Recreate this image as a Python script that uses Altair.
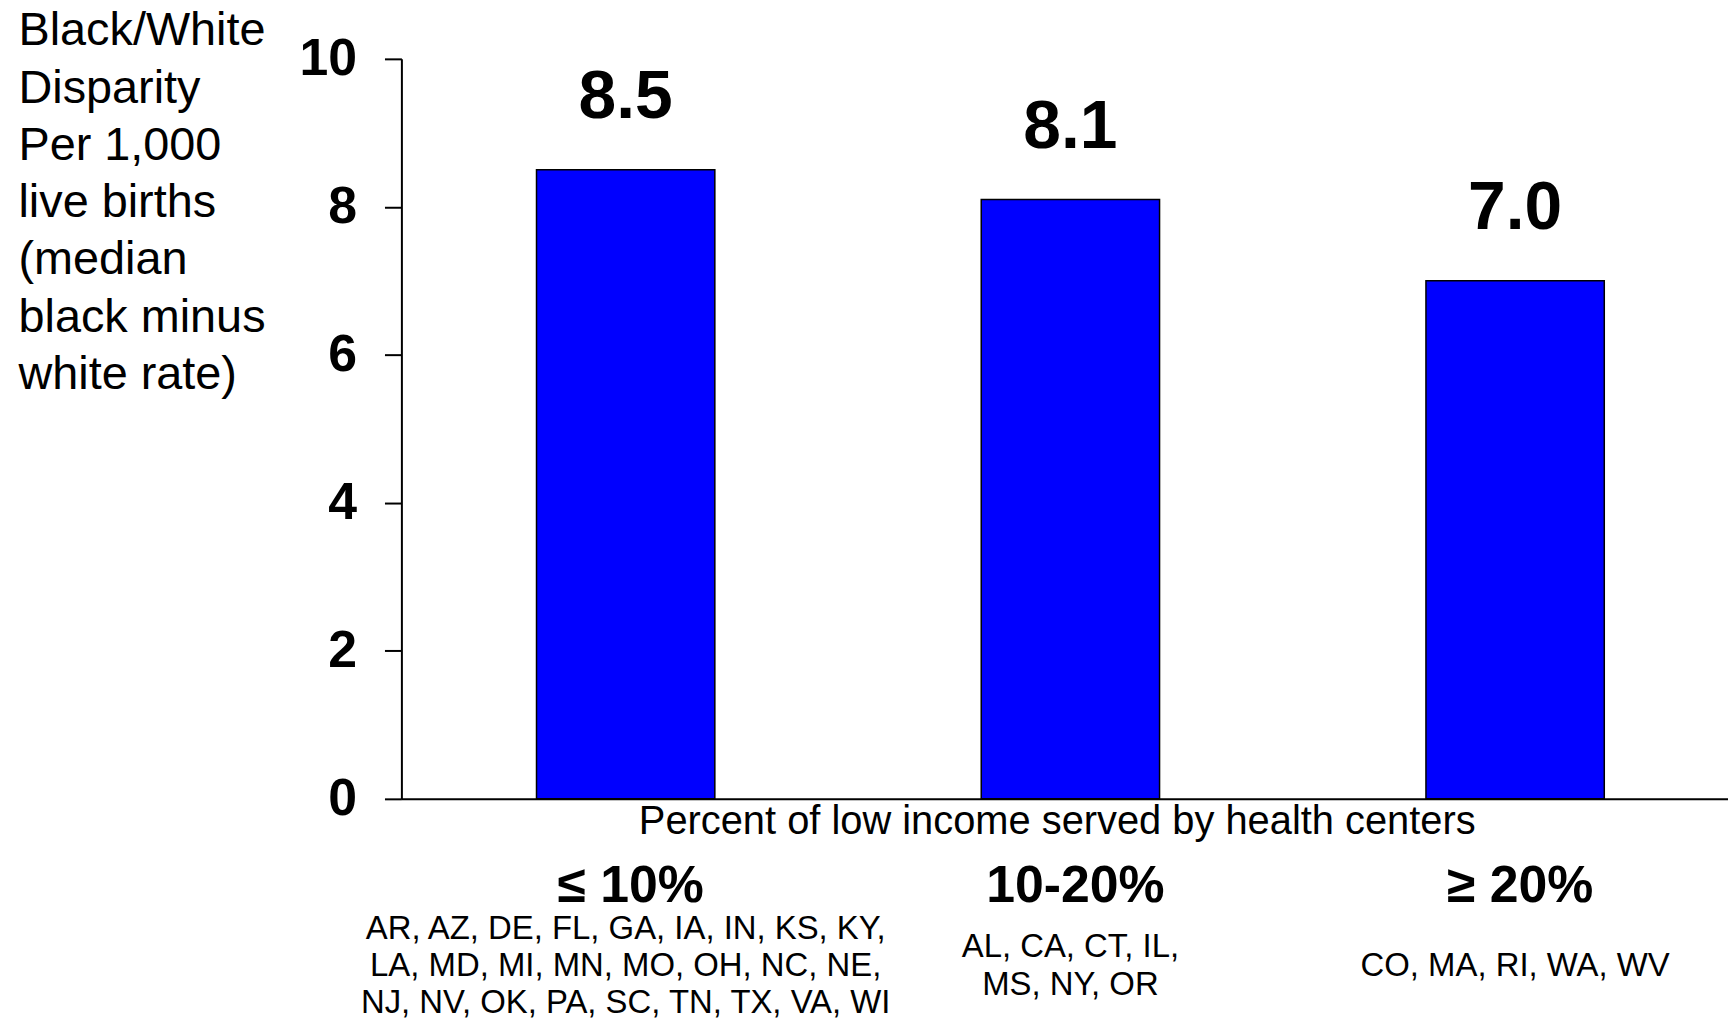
import altair as alt
import pandas as pd

categories = ["≤ 10%", "10-20%", "≥ 20%"]
disparity = [8.5, 8.1, 7.0]
value_labels = ["8.5", "8.1", "7.0"]
states_low = ["AR, AZ, DE, FL, GA, IA, IN, KS, KY,",
              "LA, MD, MI, MN, MO, OH, NC, NE,",
              "NJ, NV, OK, PA, SC, TN, TX, VA, WI"]
states_mid = ["AL, CA, CT, IL,", "MS, NY, OR"]
states_high = ["CO, MA, RI, WA, WV"]
y_ticks = [0, 2, 4, 6, 8, 10]
y_title = ["Black/White", "Disparity", "Per 1,000", "live births",
           "(median", "black minus", "white rate)"]
x_title = "Percent of low income served by health centers"

df = pd.DataFrame({"category": categories, "value": disparity, "label": value_labels})

line_rows = []
for cat, lines in zip(categories, [states_low, states_mid, states_high]):
    for i, txt in enumerate(lines):
        line_rows.append({"category": cat, "line": txt, "idx": i, "n": len(lines)})
lines_df = pd.DataFrame(line_rows)

FONT = "Liberation Sans"
W, H = 1332, 743
LINE_H = 37.5
STATES_MID = 911

x_axis = alt.Axis(
    title=x_title, labelAngle=0, labelFont=FONT, labelFontSize=52,
    labelFontWeight="bold", labelColor="black", labelPadding=103,
    labelBaseline="alphabetic", labelLimit=600, labelOffset=5,
    ticks=False, tickSize=0, domainColor="black", domainWidth=2,
    titleFont=FONT, titleFontSize=40, titleFontWeight="normal",
    titleColor="black", titleX=658, titleY=35, titleAlign="center",
    titleBaseline="alphabetic",
)
x_scale = alt.Scale(paddingInner=0.599, paddingOuter=0.291, align=0.522)
x = alt.X("category:N", sort=categories, scale=x_scale, axis=x_axis)

y_scale = alt.Scale(domain=[0, 10], nice=False, zero=True)
y = alt.Y(
    "value:Q", scale=y_scale,
    axis=alt.Axis(
        values=y_ticks, format="d", grid=False,
        title=y_title, titleAngle=0, titleAlign="left",
        titleBaseline="alphabetic", titleX=-385, titleY=-14,
        titleFont=FONT, titleFontSize=47, titleFontWeight="normal",
        titleLineHeight=57.5, titleColor="black",
        labelFont=FONT, labelFontSize=52, labelFontWeight="bold",
        labelColor="black", labelPadding=28,
        tickSize=17, tickWidth=2, tickColor="black",
        domainColor="black", domainWidth=2,
    ),
)

bars = alt.Chart(df).mark_bar(
    color="#0000FF", stroke="black", strokeWidth=1.5
).encode(x=x, y=y)

labels = alt.Chart(df).mark_text(
    font=FONT, fontSize=68, fontWeight="bold", baseline="middle",
    align="center", dy=-72, color="black"
).encode(x=x, y=y, text="label:N")

main = alt.layer(bars, labels)

states = alt.Chart(lines_df).transform_calculate(
    pos="datum.idx - (datum.n - 1) / 2"
).mark_text(
    font=FONT, fontSize=33, baseline="middle", align="center", color="black"
).encode(
    x=x,
    y=alt.Y("pos:Q", axis=None,
            scale=alt.Scale(domain=[-1, 1], range=[STATES_MID - LINE_H, STATES_MID + LINE_H])),
    text="line:N",
)

chart = alt.layer(main, states).resolve_scale(y="independent").properties(
    width=W, height=H,
    autosize=alt.AutoSizeParams(type="none"),
    padding={"left": 395, "top": 49, "right": 0, "bottom": 223},
    background="white",
).configure_view(strokeWidth=0)

chart.save("out.html", embed_options={"renderer": "svg", "actions": False})
